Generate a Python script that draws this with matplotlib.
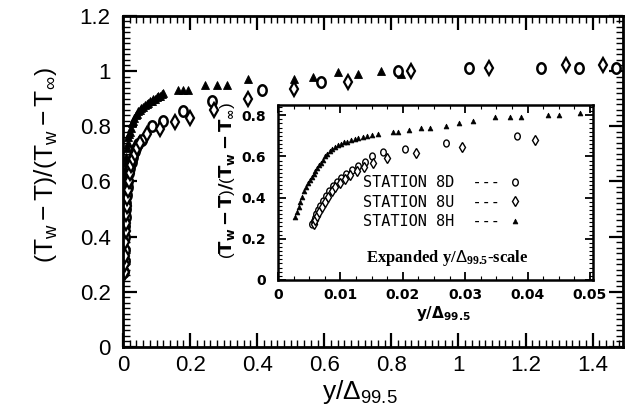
import numpy as np
import matplotlib
matplotlib.use("Agg")
import matplotlib.pyplot as plt
from matplotlib.path import Path
from matplotlib.ticker import MultipleLocator, FuncFormatter

# ---- main panel (full y/Delta99.5 range) ----
st8h_x = [0.001, 0.0015, 0.002, 0.0025, 0.003, 0.0035, 0.004, 0.005, 0.006, 0.007,
          0.008, 0.009, 0.010, 0.012, 0.014, 0.016, 0.018, 0.020, 0.023, 0.026,
          0.030, 0.034, 0.038, 0.042, 0.046, 0.050, 0.055, 0.060, 0.065, 0.070,
          0.075, 0.080, 0.085, 0.090, 0.095, 0.100, 0.105, 0.110, 0.115, 0.120,
          0.165, 0.180, 0.195, 0.245, 0.280, 0.310, 0.373, 0.510, 0.567, 0.640,
          0.700, 0.770, 0.830]
st8h_y = [0.30, 0.34, 0.38, 0.42, 0.46, 0.50, 0.53, 0.57, 0.60, 0.63,
          0.65, 0.67, 0.69, 0.72, 0.74, 0.76, 0.77, 0.78, 0.795, 0.81,
          0.82, 0.83, 0.84, 0.845, 0.855, 0.86, 0.865, 0.87, 0.875, 0.88,
          0.885, 0.89, 0.893, 0.897, 0.90, 0.905, 0.908, 0.91, 0.915, 0.92,
          0.93, 0.93, 0.93, 0.95, 0.95, 0.95, 0.97, 0.97, 0.98, 0.995,
          0.99, 1.00, 0.99]

st8d_x = [0.004, 0.0045, 0.005, 0.006, 0.007, 0.008, 0.009, 0.010, 0.012, 0.014,
          0.016, 0.019, 0.022, 0.026, 0.030, 0.035, 0.040, 0.045, 0.057, 0.087,
          0.120, 0.180, 0.265, 0.415, 0.590, 0.820, 1.030, 1.245, 1.360, 1.470]
st8d_y = [0.27, 0.31, 0.35, 0.40, 0.44, 0.47, 0.50, 0.52, 0.55, 0.58,
          0.60, 0.63, 0.65, 0.67, 0.69, 0.71, 0.72, 0.735, 0.75, 0.80,
          0.82, 0.855, 0.89, 0.93, 0.96, 1.00, 1.01, 1.01, 1.01, 1.01]

st8u_x = [0.0045, 0.005, 0.0055, 0.0065, 0.0075, 0.0085, 0.0095, 0.011, 0.013, 0.015,
          0.018, 0.021, 0.025, 0.030, 0.036, 0.042, 0.050, 0.070, 0.110, 0.155,
          0.200, 0.270, 0.373, 0.510, 0.670, 0.860, 1.090, 1.320, 1.430]
st8u_y = [0.27, 0.30, 0.33, 0.38, 0.42, 0.45, 0.48, 0.51, 0.54, 0.57,
          0.60, 0.63, 0.66, 0.68, 0.70, 0.72, 0.74, 0.77, 0.79, 0.815,
          0.83, 0.86, 0.90, 0.935, 0.96, 1.00, 1.01, 1.02, 1.02]

# ---- inset (expanded y/Delta99.5 scale) ----
in8h_x = [0.0027, 0.0030, 0.0033, 0.0036, 0.0039, 0.0042, 0.0045, 0.0048, 0.0051, 0.0054,
          0.0057, 0.0060, 0.0063, 0.0066, 0.0069, 0.0072, 0.0075, 0.0079, 0.0083, 0.0087,
          0.0091, 0.0096, 0.0101, 0.0106, 0.0111, 0.0117, 0.0123, 0.0129, 0.0136, 0.0143,
          0.0150, 0.0160, 0.0184, 0.0192, 0.0210, 0.0230, 0.0244, 0.0270, 0.0290, 0.0313,
          0.0348, 0.0372, 0.0390, 0.0433, 0.0450, 0.0484]
in8h_y = [0.306, 0.33, 0.355, 0.38, 0.405, 0.43, 0.45, 0.47, 0.485, 0.50,
          0.515, 0.53, 0.545, 0.56, 0.57, 0.585, 0.60, 0.61, 0.625, 0.635,
          0.645, 0.655, 0.662, 0.668, 0.672, 0.678, 0.684, 0.69, 0.695, 0.70,
          0.705, 0.71, 0.72, 0.72, 0.73, 0.74, 0.74, 0.75, 0.76, 0.77,
          0.79, 0.79, 0.79, 0.80, 0.80, 0.81]

in8d_x = [0.0055, 0.0057, 0.0059, 0.0061, 0.0064, 0.0068, 0.0072, 0.0077, 0.0082, 0.0088,
          0.0094, 0.0101, 0.0109, 0.0118, 0.0128, 0.0140, 0.0150, 0.0168, 0.0204, 0.0270,
          0.0383]
in8d_y = [0.27, 0.285, 0.30, 0.32, 0.34, 0.36, 0.385, 0.41, 0.43, 0.455,
          0.475, 0.495, 0.515, 0.535, 0.555, 0.575, 0.60, 0.62, 0.635, 0.665,
          0.70]

in8u_x = [0.0058, 0.0060, 0.0063, 0.0066, 0.0070, 0.0075, 0.0080, 0.0086, 0.0092, 0.0099,
          0.0107, 0.0116, 0.0126, 0.0138, 0.0152, 0.0175, 0.0222, 0.0295, 0.0412]
in8u_y = [0.27, 0.29, 0.31, 0.33, 0.355, 0.38, 0.405, 0.43, 0.45, 0.47,
          0.49, 0.51, 0.53, 0.55, 0.57, 0.59, 0.615, 0.645, 0.68]

legend_labels = ["STATION 8D  ---", "STATION 8U  ---", "STATION 8H  ---"]

plt.rcParams["font.family"] = ["Liberation Sans", "DejaVu Sans"]
plt.rcParams["mathtext.fontset"] = "custom"
plt.rcParams["mathtext.rm"] = "Liberation Sans"
plt.rcParams["mathtext.it"] = "Liberation Sans:italic"
plt.rcParams["mathtext.bf"] = "Liberation Sans:bold"
plt.rcParams["mathtext.sf"] = "DejaVu Sans:bold"
plt.rcParams["mathtext.cal"] = "Liberation Serif:bold"

# slightly tall open ellipse, like the "0"-shaped symbols in the original
tt = np.linspace(0, 2 * np.pi, 41)
ellipse = Path(np.column_stack([0.8 * np.cos(tt), np.sin(tt)]), closed=True)

fmt = FuncFormatter(lambda v, pos: f"{v:g}")

fig = plt.figure(figsize=(6.31, 4.16), dpi=100)
ax = fig.add_axes([0.195, 0.166, 0.792, 0.796])

ax.plot(st8h_x, st8h_y, ls="none", marker="^", ms=5.5, mfc="black", mec="black", mew=0.6)
ax.plot(st8d_x, st8d_y, ls="none", marker=ellipse, ms=7.5, mfc="white", mec="black", mew=1.8)
ax.plot(st8u_x, st8u_y, ls="none", marker="d", ms=7.5, mfc="white", mec="black", mew=1.6)

ax.set_xlim(0, 1.49)
ax.set_ylim(0, 1.2)
ax.xaxis.set_major_locator(MultipleLocator(0.2))
ax.xaxis.set_minor_locator(MultipleLocator(0.02))
ax.yaxis.set_major_locator(MultipleLocator(0.2))
ax.yaxis.set_minor_locator(MultipleLocator(0.02))
ax.xaxis.set_major_formatter(fmt)
ax.yaxis.set_major_formatter(fmt)
ax.tick_params(which="both", direction="in", top=True, right=True, labelsize=16)
ax.tick_params(which="major", length=10, width=1.6)
ax.tick_params(which="minor", length=5, width=1.0)
ax.tick_params(axis="x", pad=6)
ax.tick_params(axis="y", pad=9)
for sp in ax.spines.values():
    sp.set_linewidth(2)

ax.set_xlabel(r"$\mathrm{y/\Delta_{99.5}}$", fontsize=19)
ax.xaxis.set_label_coords(0.474, -0.095)
ax.set_ylabel(r"$\left(\mathrm{T_w - T}\right)/\left(\mathrm{T_w - T_\infty}\right)$", fontsize=19)
ax.yaxis.set_label_coords(-0.126, 0.55)

# ---- inset ----
axin = fig.add_axes([0.4406, 0.327, 0.4992, 0.4207])
h_d, = axin.plot(in8d_x, in8d_y, ls="none", marker=ellipse, ms=5, mfc="white", mec="black", mew=1.0)
h_u, = axin.plot(in8u_x, in8u_y, ls="none", marker="d", ms=5, mfc="white", mec="black", mew=1.0)
h_h, = axin.plot(in8h_x, in8h_y, ls="none", marker="^", ms=3.5, mfc="black", mec="black", mew=0.5)

axin.set_xlim(0, 0.0505)
axin.set_ylim(0, 0.85)
axin.xaxis.set_major_locator(MultipleLocator(0.01))
axin.xaxis.set_minor_locator(MultipleLocator(0.0025))
axin.yaxis.set_major_locator(MultipleLocator(0.2))
axin.yaxis.set_minor_locator(MultipleLocator(0.02))
axin.xaxis.set_major_formatter(fmt)
axin.yaxis.set_major_formatter(fmt)
axin.tick_params(which="both", direction="in", top=True, right=True)
axin.tick_params(which="major", length=6, width=1.3)
axin.tick_params(which="minor", length=3, width=0.8)
axin.tick_params(axis="x", pad=6)
axin.tick_params(axis="y", pad=9)
for lab in axin.get_xticklabels() + axin.get_yticklabels():
    lab.set_fontfamily("DejaVu Sans")
    lab.set_fontweight("bold")
    lab.set_fontsize(10)
for sp in axin.spines.values():
    sp.set_linewidth(1.8)

axin.set_xlabel(r"$\mathsf{y/\Delta_{99.5}}$", fontsize=11)
axin.xaxis.set_label_coords(0.524, -0.135)
axin.set_ylabel(r"$\mathsf{\left(T_w - T\right)/\left(T_w - T_\infty\right)}$", fontsize=13)
axin.yaxis.set_label_coords(-0.13, 0.57)

axin.legend([h_d, h_u, h_h], legend_labels, loc="upper left", bbox_to_anchor=(0.27, 0.60),
            frameon=False, markerfirst=False, numpoints=1, borderpad=0, borderaxespad=0,
            handlelength=1.0, handletextpad=0.5, labelspacing=0.3,
            prop={"family": "DejaVu Sans Mono", "size": 11})

axin.text(0.537, 0.126, r"Expanded y/$\Delta$$_{\mathcal{99.5}}$-scale", transform=axin.transAxes,
          ha="center", va="center", fontsize=12, fontfamily="Liberation Serif", fontweight="bold")

fig.savefig("out.png", dpi=100, facecolor="white")
